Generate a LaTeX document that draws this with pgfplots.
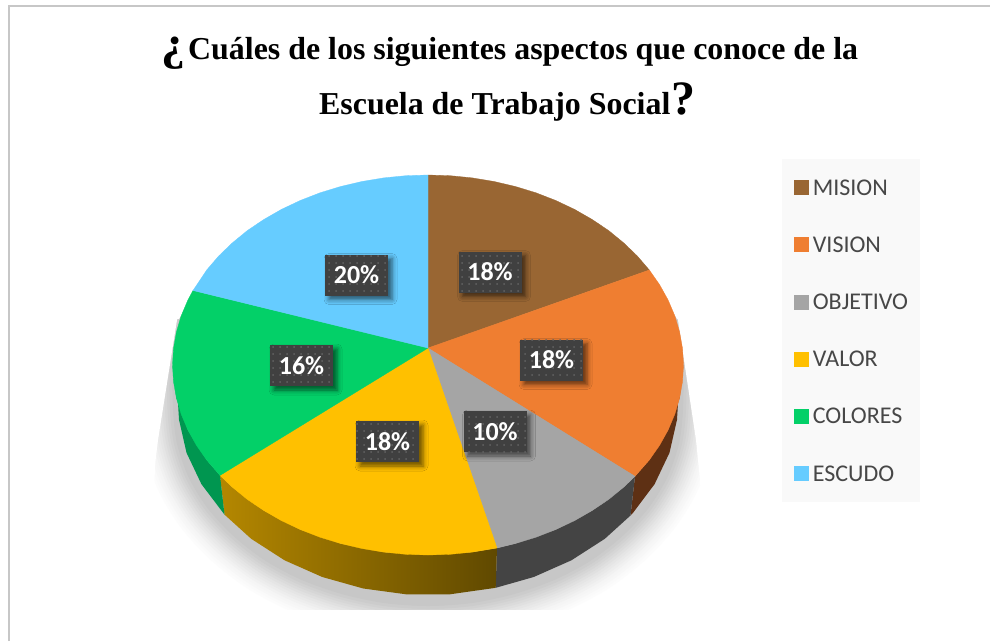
\documentclass[border=0pt]{standalone}
\usepackage{fontspec}
\setmainfont{Carlito}
\newfontfamily\titlefont{Liberation Serif}
\usepackage{pgfplots}
\usepackage{pgfplotstable}
\pgfplotsset{compat=1.18}
\usetikzlibrary{patterns.meta,shadows.blur}
\definecolor{cMis}{HTML}{996633}
\definecolor{cVis}{HTML}{EF7E31}
\definecolor{cObj}{HTML}{A5A5A5}
\definecolor{cVal}{HTML}{FFC000}
\definecolor{cCol}{HTML}{03D068}
\definecolor{cEsc}{HTML}{66CCFF}
\definecolor{lblbg}{HTML}{404040}
\definecolor{lbldot}{HTML}{636363}
\pgfplotstableread{
x y
672 320
678 370
678 409
674.2 442
662.9 475
644.5 505
619.5 532
588.7 556
553 575
513.5 589
471.4 598
428 601
384.6 598
342.5 589
303 575
267.3 556
236.5 532
211.5 505
193.1 475
181.8 442
178 409
178 370
184 320
}\shadowline
\pgfplotstableread{
x y v
490 272 18
551.5 360 18
495 431.5 10
387.5 441.5 18
301.5 365.5 16
356.5 275 20
}\labels
\newcommand{\shadowlayer}[2]{\addplot[forget plot,smooth,draw=#2,line width=#1,line join=round] table {\shadowline};}
\begin{document}
\begin{tikzpicture}
\begin{axis}[
  scale only axis,width=990pt,height=641pt,
  xmin=0,xmax=990,ymin=0,ymax=641,y dir=reverse,
  hide axis,
  legend cell align=left,
  legend image code/.code={\path[fill=none,draw=none] (0pt,-6.5pt) rectangle (18.5pt,7.5pt);\fill[#1] (0pt,-6.5pt) rectangle (14pt,7.5pt);},
  legend style={at={(axis cs:782,159)},anchor=north west,draw=none,fill=black!2.5,
    inner xsep=12pt,inner ysep=21pt,row sep=42pt,
    font=\fontsize{24}{25}\selectfont,text=black!72,
    nodes={inner sep=0pt,text height=15pt,text depth=0pt}},
]
% page extent
\addplot[forget plot,fill=white,draw=none] coordinates {(0,0)(990,0)(990,641)(0,641)} --cycle;
% shadow under the pie
\shadowlayer{76pt}{black!1}
\shadowlayer{71pt}{black!2}
\shadowlayer{66pt}{black!3}
\shadowlayer{61pt}{black!4}
\shadowlayer{56pt}{black!5.5}
\shadowlayer{51pt}{black!7}
\shadowlayer{46pt}{black!8.5}
\shadowlayer{41pt}{black!10}
\shadowlayer{36pt}{black!12}
\shadowlayer{31pt}{black!14}
\shadowlayer{26pt}{black!16}
\shadowlayer{21pt}{black!18}
\shadowlayer{16pt}{black!20}
\addplot[forget plot,smooth,draw=black!22,fill=black!22,line width=10pt,line join=round] table {\shadowline} --cycle;
% masks giving the shadow its cut edges
\addplot[forget plot,fill=white,draw=none] coordinates {(0,609.5)(990,609.5)(990,641)(0,641)} --cycle;
\addplot[forget plot,fill=white,draw=none] coordinates {(90,270)(200,270)(177,320)(158,440)(155,465)(153,540)(90,540)} --cycle;
\addplot[forget plot,fill=white,draw=none] coordinates {(770,270)(655,270)(678,320)(696,440)(700,480)(703,540)(770,540)} --cycle;
% side faces
\addplot[forget plot,draw=none,fill={rgb,255:red,94;green,48;blue,20}] coordinates {(683.5,365)(679.6,398)(668.1,430)(649.3,460)(635,476.3)(630.5,515.5)(632.8,513.1)(654.6,484.1)(669.5,452.7)(677,419.7)(678,403)} --cycle;
\addplot[forget plot,draw=none,fill={rgb,255:red,68;green,68;blue,68}] coordinates {(635,476.3)(623.7,487.1)(592.2,510.5)(555.8,529.5)(515.4,543.5)(497,548)(495.7,587.8)(533.7,577)(571.4,560.3)(604.8,538.8)(630.5,515.5)} --cycle;
\addplot[forget plot,draw=none,left color={rgb,255:red,180;green,135;blue,0},middle color={rgb,255:red,102;green,78;blue,0},right color={rgb,255:red,96;green,73;blue,0}] coordinates {(497,548)(472.4,552.1)(428,555)(383.6,552.1)(340.6,543.5)(300.2,529.5)(263.8,510.5)(232.3,487.1)(220,475.4)(224.5,514.6)(251.2,538.8)(284.6,560.3)(322.3,577)(363.3,588.5)(406.2,594.3)(449.8,594.3)(495.7,587.8)} --cycle;
\addplot[forget plot,draw=none,fill={rgb,255:red,0;green,150;blue,80}] coordinates {(220,475.4)(206.7,460)(187.9,430)(176.4,398)(172.5,365)(178,403)(179,419.7)(186.5,452.7)(201.4,484.1)(224.5,514.6)} --cycle;
% top faces
\addplot[draw=cMis,line width=.3pt,fill=cMis] coordinates {(428,348)(428,175)(450.3,175.7)(472.4,177.9)(494.1,181.5)(515.4,186.5)(536,192.8)(555.8,200.5)(574.6,209.4)(592.2,219.5)(608.7,230.6)(623.7,242.9)(637.3,256)(649.3,270)} --cycle;
\addlegendentry{MISION}
\addplot[draw=cVis,line width=.3pt,fill=cVis] coordinates {(428,348)(649.3,270)(659.6,284.7)(668.1,300)(674.8,315.8)(679.6,332)(682.5,348.4)(683.5,365)(682.5,381.6)(679.6,398)(674.8,414.2)(668.1,430)(659.6,445.3)(649.3,460)(635,476.3)} --cycle;
\addlegendentry{VISION}
\addplot[draw=cObj,line width=.3pt,fill=cObj] coordinates {(428,348)(635,476.3)(623.7,487.1)(608.7,499.4)(592.2,510.5)(574.6,520.6)(555.8,529.5)(536,537.2)(515.4,543.5)(497,548)} --cycle;
\addlegendentry{OBJETIVO}
\addplot[draw=cVal,line width=.3pt,fill=cVal] coordinates {(428,348)(497,548)(472.4,552.1)(450.3,554.3)(428,555)(405.7,554.3)(383.6,552.1)(361.9,548.5)(340.6,543.5)(320,537.2)(300.2,529.5)(281.4,520.6)(263.8,510.5)(247.3,499.4)(232.3,487.1)(220,475.4)} --cycle;
\addlegendentry{VALOR}
\addplot[draw=cCol,line width=.3pt,fill=cCol] coordinates {(428,348)(220,475.4)(206.7,460)(196.4,445.3)(187.9,430)(181.2,414.2)(176.4,398)(173.5,381.6)(172.5,365)(173.5,348.4)(176.4,332)(181.2,315.8)(187.9,300)(193,290.5)} --cycle;
\addlegendentry{COLORES}
\addplot[draw=cEsc,line width=.3pt,fill=cEsc] coordinates {(428,348)(193,290.5)(206.7,270)(218.7,256)(232.3,242.9)(247.3,230.6)(263.8,219.5)(281.4,209.4)(300.2,200.5)(320,192.8)(340.6,186.5)(361.9,181.5)(383.6,177.9)(405.7,175.7)(428,175)} --cycle;
\addlegendentry{ESCUDO}
% data labels
\addplot[forget plot,draw=none,mark=none,point meta=explicit symbolic,
  nodes near coords={\pgfplotspointmeta\%},
  nodes near coords style={anchor=center,inner sep=0pt,minimum width=63pt,minimum height=41pt,
    text=white,font=\fontsize{26}{27}\bfseries\selectfont,
    preaction={fill=lblbg,blur shadow={shadow xshift=4pt,shadow yshift=-4pt,shadow blur radius=5pt,shadow opacity=60}},
    pattern={Dots[distance=7pt,radius=1pt]},pattern color=lbldot},
] table[meta=v] {\labels};
% frame
\addplot[forget plot,draw=black!22,line width=2pt] coordinates {(9,641)(9,6)(990,6)};
% title
\node[anchor=base west,inner sep=0pt,font=\titlefont\bfseries\fontsize{48}{50}\selectfont] at (axis cs:161,59) {¿};
\node[anchor=base west,inner sep=0pt,font=\titlefont\bfseries\fontsize{31.9}{33}\selectfont] at (axis cs:188,59) {Cuáles de los siguientes aspectos que conoce de la};
\node[anchor=base west,inner sep=0pt,font=\titlefont\bfseries\fontsize{31.9}{33}\selectfont] at (axis cs:319,114.5) {Escuela de Trabajo Social};
\node[anchor=base west,inner sep=0pt,font=\titlefont\bfseries\fontsize{48}{50}\selectfont] at (axis cs:671,114.5) {?};
\end{axis}
\end{tikzpicture}
\end{document}
